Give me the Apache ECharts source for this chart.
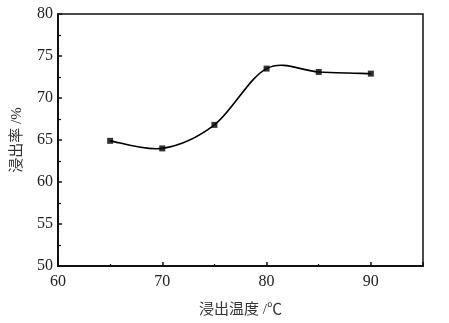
<!DOCTYPE html>
<html><head><meta charset="utf-8">
<script src="https://cdn.jsdelivr.net/npm/echarts@6/dist/echarts.min.js"></script>
<style>html,body{margin:0;padding:0;background:#fff}#c{width:449px;height:323px}</style>
</head><body><div id="c"></div>
<script>
const temperatures = [65, 70, 75, 80, 85, 90];
const leachRate = [64.9, 64.0, 66.8, 73.5, 73.1, 72.9];
const xName = '浸出温度 /℃';
const yName = '浸出率 /%';
const FONT = 'Liberation Serif, Noto Sans CJK SC, serif';
const points = temperatures.map((t, i) => [t, leachRate[i]]);
const chart = echarts.init(document.getElementById('c'));

// Catmull-Rom spline segment drawn through the axis scales (api.coord)
function renderSegment(params, api) {
  const i = params.dataIndex;
  const n = points.length;
  if (i >= n - 1) return null;
  const P = k => api.coord(points[Math.max(0, Math.min(n - 1, k))]);
  const p0 = P(i - 1), p1 = P(i), p2 = P(i + 1), p3 = P(i + 2);
  return {
    type: 'bezierCurve',
    shape: {
      x1: p1[0], y1: p1[1], x2: p2[0], y2: p2[1],
      cpx1: p1[0] + (p2[0] - p0[0]) / 6, cpy1: p1[1] + (p2[1] - p0[1]) / 6,
      cpx2: p2[0] - (p3[0] - p1[0]) / 6, cpy2: p2[1] - (p3[1] - p1[1]) / 6
    },
    style: {stroke: '#000', fill: null, lineWidth: 1.6}
  };
}

chart.setOption({
  animation: false,
  grid: {left: 58, right: 26, top: 14, bottom: 55, show: true, borderColor: '#111', borderWidth: 1.5, backgroundColor: 'transparent'},
  xAxis: {
    type: 'value', min: 60, max: 95, interval: 10,
    name: xName, nameLocation: 'middle', nameGap: 37,
    nameTextStyle: {fontFamily: FONT, fontSize: 15, color: '#333'},
    axisLine: {show: true, onZero: false, lineStyle: {color: '#111', width: 2}},
    axisTick: {show: true, inside: true, length: 4, lineStyle: {color: '#111', width: 1.5}},
    minorTick: {show: true, splitNumber: 2, length: 2, lineStyle: {color: '#111', width: 1.2}},
    splitLine: {show: false},
    axisLabel: {fontFamily: FONT, fontSize: 16, color: '#222', margin: 8,
      formatter: v => (v <= 90 ? String(v) : '')}
  },
  yAxis: {
    type: 'value', min: 50, max: 80, interval: 5,
    name: yName, nameLocation: 'middle', nameGap: 33, nameRotate: 90,
    nameTextStyle: {fontFamily: FONT, fontSize: 15, color: '#333'},
    axisLine: {show: true, onZero: false, lineStyle: {color: '#111', width: 2}},
    axisTick: {show: true, inside: true, length: 4, lineStyle: {color: '#111', width: 1.5}},
    minorTick: {show: true, splitNumber: 2, length: 3, lineStyle: {color: '#111', width: 1.2}},
    splitLine: {show: false},
    axisLabel: {fontFamily: FONT, fontSize: 16, color: '#222', margin: 5}
  },
  series: [{
    type: 'custom',
    renderItem: renderSegment,
    data: points,
    encode: {x: 0, y: 1},
    z: 2
  }, {
    type: 'scatter',
    data: points,
    symbol: 'rect', symbolSize: 6,
    itemStyle: {color: '#000'},
    z: 3
  }]
});
</script></body></html>
